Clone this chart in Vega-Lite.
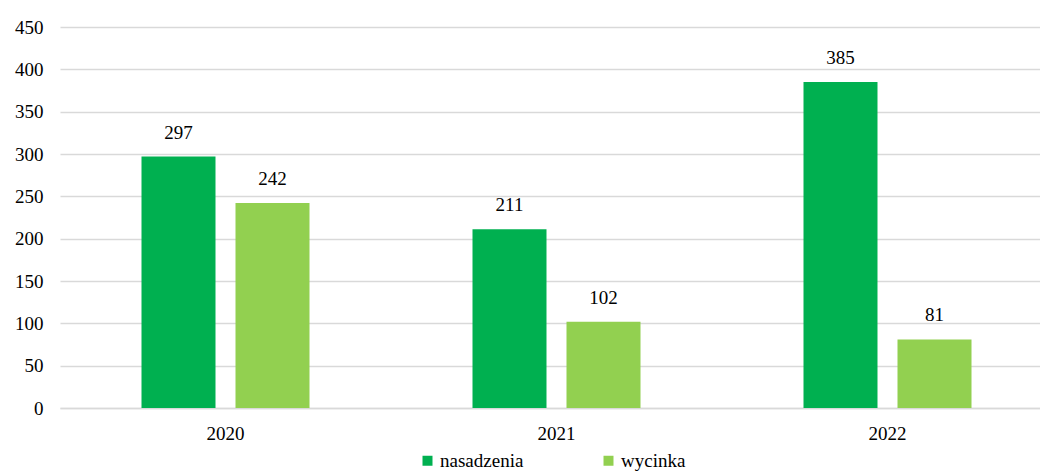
{
  "$schema": "https://vega.github.io/schema/vega-lite/v6.json",
  "width": 980,
  "height": 381,
  "autosize": "none",
  "padding": {"left": 60, "top": 27, "right": 0, "bottom": 63},
  "background": "white",
  "config": {
    "view": {"stroke": null},
    "font": "'Liberation Serif', 'DejaVu Serif', serif",
    "axis": {"labelFont": "'Liberation Serif', 'DejaVu Serif', serif", "labelFontSize": 19, "labelColor": "#000000"},
    "legend": {"labelFont": "'Liberation Serif', 'DejaVu Serif', serif", "labelFontSize": 19, "labelColor": "#000000"}
  },
  "data": {
    "values": [
      {"rok": "2020", "typ": "nasadzenia", "wartosc": 297},
      {"rok": "2020", "typ": "wycinka", "wartosc": 242},
      {"rok": "2021", "typ": "nasadzenia", "wartosc": 211},
      {"rok": "2021", "typ": "wycinka", "wartosc": 102},
      {"rok": "2022", "typ": "nasadzenia", "wartosc": 385},
      {"rok": "2022", "typ": "wycinka", "wartosc": 81}
    ]
  },
  "encoding": {
    "x": {
      "field": "rok",
      "type": "nominal",
      "scale": {"range": [0, 993], "paddingInner": 0, "paddingOuter": 0},
      "axis": {
        "title": null,
        "labelAngle": 0,
        "ticks": false,
        "domainColor": "#d9d9d9",
        "domainWidth": 1.5,
        "labelPadding": 16
      }
    },
    "xOffset": {
      "field": "typ",
      "type": "nominal",
      "scale": {"paddingInner": 0.2128, "paddingOuter": 0.867}
    },
    "y": {
      "field": "wartosc",
      "type": "quantitative",
      "scale": {"domain": [0, 450], "nice": false},
      "axis": {
        "title": null,
        "values": [0, 50, 100, 150, 200, 250, 300, 350, 400, 450],
        "domain": false,
        "ticks": false,
        "gridColor": "#d9d9d9",
        "gridWidth": 1.5,
        "labelPadding": 17
      }
    }
  },
  "layer": [
    {
      "mark": {"type": "bar"},
      "encoding": {
        "color": {
          "field": "typ",
          "type": "nominal",
          "scale": {"domain": ["nasadzenia", "wycinka"], "range": ["#00B050", "#92D050"]},
          "legend": {
            "title": null,
            "orient": "none",
            "direction": "horizontal",
            "legendX": 358,
            "legendY": 424,
            "symbolType": "square",
            "symbolSize": 100,
            "symbolStrokeWidth": 0,
            "labelOffset": 3,
            "columnPadding": 75
          }
        }
      }
    },
    {
      "mark": {"type": "text", "baseline": "bottom", "dy": -14, "fontSize": 19, "color": "#000000", "font": "'Liberation Serif', 'DejaVu Serif', serif"},
      "encoding": {
        "text": {"field": "wartosc", "type": "quantitative"}
      }
    }
  ]
}
